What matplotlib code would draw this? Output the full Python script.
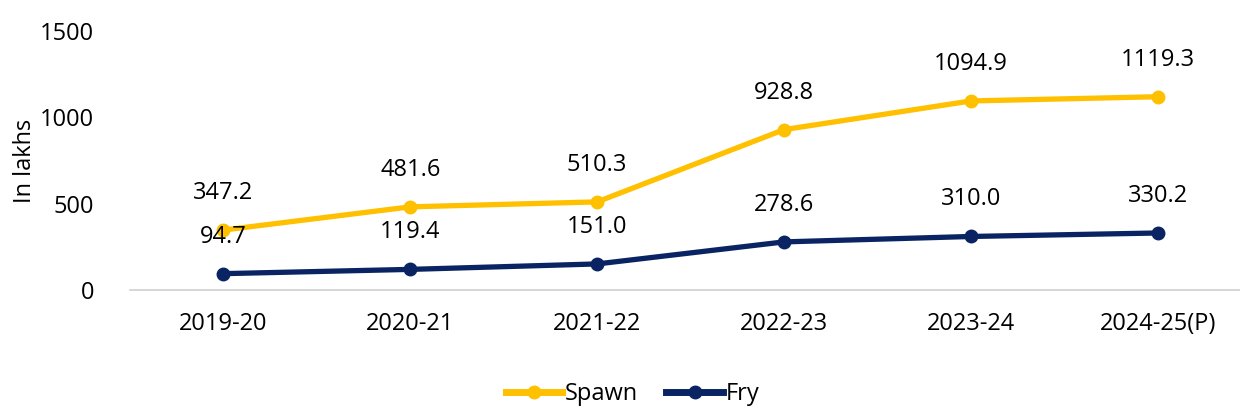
import matplotlib.pyplot as plt
import numpy as np

plt.rcParams['font.family'] = ['Open Sans', 'DejaVu Sans']

years = ["2019-20", "2020-21", "2021-22", "2022-23", "2023-24", "2024-25(P)"]
spawn = [347.2, 481.6, 510.3, 928.8, 1094.9, 1119.3]
fry = [94.7, 119.4, 151.0, 278.6, 310.0, 330.2]

yellow = '#FFC000'
navy = '#0A2463'

fig = plt.figure(figsize=(12.4, 4.07), dpi=100)
ax = fig.add_axes([130/1240, 1 - 290/407, 1110/1240, 259/407])

x = np.arange(len(years))
ax.plot(x, spawn, color=yellow, lw=3.8, marker='o', ms=9, label='Spawn', clip_on=False)
ax.plot(x, fry, color=navy, lw=3.8, marker='o', ms=9, label='Fry', clip_on=False)

for i in range(len(x)):
    ax.annotate(f"{spawn[i]:.1f}", (x[i], spawn[i]), xytext=(0, 18),
                textcoords='offset points', ha='center', va='bottom', fontsize=17)
    ax.annotate(f"{fry[i]:.1f}", (x[i], fry[i]), xytext=(0, 18),
                textcoords='offset points', ha='center', va='bottom', fontsize=17)

ax.set_xlim(-0.5, 5.44)
ax.set_ylim(0, 1500)
ax.set_yticks([0, 500, 1000, 1500])
ax.set_xticks(x)
ax.set_xticklabels(years)
ax.tick_params(axis='both', length=0, labelsize=17, pad=16)
ax.tick_params(axis='y', pad=26)
for s in ['top', 'right', 'left']:
    ax.spines[s].set_visible(False)
ax.spines['bottom'].set_color('#d0d0d0')
ax.spines['bottom'].set_linewidth(1.2)
ax.set_ylabel("In lakhs", fontsize=17, labelpad=2)

leg = fig.legend(loc='lower center', ncol=2, frameon=False, fontsize=17,
                 bbox_to_anchor=(0.51, -0.05), handlelength=2.4, handletextpad=0.1,
                 columnspacing=1.2)
for h in leg.legend_handles:
    h.set_linewidth(5)

fig.savefig('out.png', dpi=100)
